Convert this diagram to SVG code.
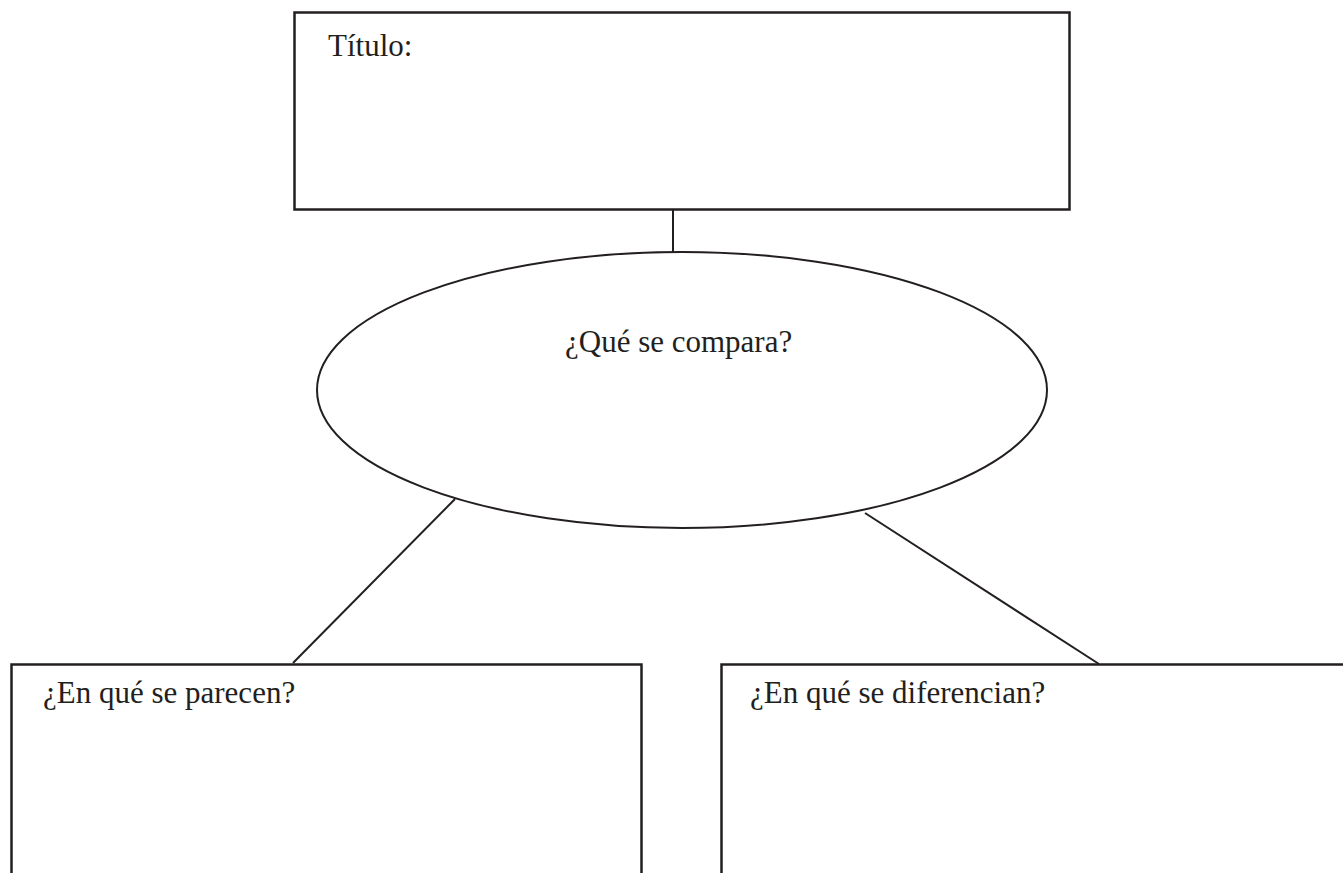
<svg xmlns="http://www.w3.org/2000/svg" width="1343" height="873" viewBox="0 0 1343 873">
<style>
.box{fill:#fff;stroke:#231f20;stroke-width:2.5}
.conn{stroke:#231f20;stroke-width:2;fill:none}
.t{font-family:"Liberation Serif",serif;font-size:31px;fill:#231f20}
</style>
<rect width="1343" height="873" fill="#fff"/>
<g id="connectors">
<line class="conn" x1="673" y1="209" x2="673" y2="253"/>
<line class="conn" x1="455" y1="499" x2="293" y2="663"/>
<line class="conn" x1="865" y1="513" x2="1099" y2="664"/>
</g>
<g id="titulo">
<rect class="box" x="294.5" y="12.5" width="775" height="197"/>
<text class="t" x="328" y="56">Título:</text>
</g>
<g id="compara">
<ellipse class="conn" cx="682" cy="390" rx="365" ry="138"/>
<text class="t" x="565" y="352">¿Qué se compara?</text>
</g>
<g id="parecen">
<path class="box" d="M11.5 880 V664.5 H641.5 V880"/>
<text class="t" x="43" y="703">¿En qué se parecen?</text>
</g>
<g id="diferencian">
<path class="box" d="M721.5 880 V664.5 H1350"/>
<text class="t" x="750" y="703">¿En qué se diferencian?</text>
</g>
</svg>
